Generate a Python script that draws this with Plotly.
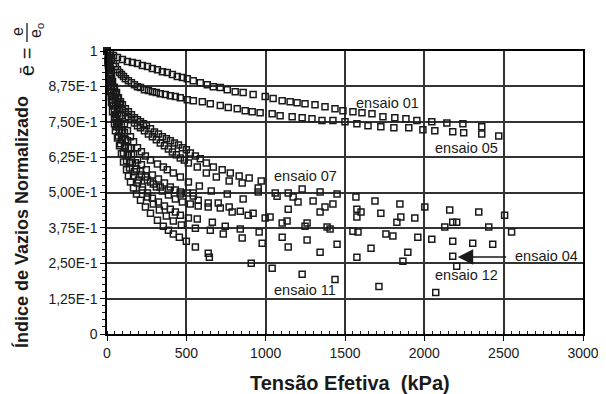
import plotly.graph_objects as go

# ---------------- data (Tensão efetiva kPa, índice de vazios normalizado) -------------
x01 = [0, 22, 41, 66, 97, 129, 160, 192, 223, 255, 286, 318, 349, 380, 412, 443, 475, 506, 544, 588,
       632, 670, 714, 758, 808, 858, 921, 997, 1047, 1104, 1154, 1198, 1248, 1311, 1374, 1437, 1487, 1550,
       1607, 1670, 1739, 1814, 1884, 1953, 2047, 2142, 2243, 2362]
y01 = [1.0, .991, .984, .977, .970, .963, .959, .956, .949, .945, .938, .934, .927, .924, .917, .910, .906,
       .902, .895, .888, .881, .874, .871, .863, .856, .853, .846, .839, .832, .824, .821, .817, .814, .810,
       .803, .796, .789, .785, .782, .778, .768, .764, .761, .754, .750, .746, .743, .732]

x05 = [0, 16, 28, 41, 53, 66, 79, 91, 104, 116, 135, 154, 173, 192, 211, 236, 261, 286, 311, 336, 368, 399,
       431, 462, 506, 544, 601, 651, 714, 764, 821, 871, 915, 965, 1041, 1091, 1167, 1230, 1292, 1355, 1424,
       1500, 1575, 1645, 1726, 1808, 1902, 1991, 2066, 2179, 2248, 2362, 2469]
y05 = [1.0, .984, .970, .956, .945, .934, .924, .917, .910, .902, .895, .888, .881, .874, .871, .863, .860,
       .856, .853, .849, .846, .842, .839, .835, .828, .824, .821, .814, .807, .800, .796, .789, .785, .782,
       .778, .771, .768, .764, .761, .754, .754, .750, .743, .736, .732, .729, .729, .722, .718, .715, .711,
       .707, .700]

x07 = [0, 9, 16, 22, 28, 35, 47, 60, 72, 85, 97, 116, 135, 154, 173, 192, 211, 230, 248, 274, 299, 324, 349,
       374, 399, 425, 450, 475, 500, 525, 557, 588, 626, 670, 726, 777, 833, 896, 972, 1230, 1343, 1450, 1569,
       1689, 1846, 2003, 2160, 2343, 2506]
y07 = [1.0, .977, .952, .931, .910, .892, .871, .853, .835, .821, .810, .796, .785, .775, .764, .757, .750,
       .743, .736, .725, .714, .707, .697, .690, .683, .675, .668, .658, .651, .640, .629, .619, .604, .590,
       .580, .569, .558, .551, .541, .512, .502, .495, .484, .470, .459, .449, .438, .431, .420]

x08 = [0, 9, 16, 22, 28, 41, 53, 66, 79, 97, 116, 135, 154, 173, 192, 211, 236, 261, 286, 311, 336, 362, 387,
       412, 437, 462, 487, 513, 569, 626, 689, 770, 852, 953, 1072, 1173, 1299, 1424, 1575, 1726, 1852, 1940,
       2179, 2406, 2550]
y08 = [1.0, .966, .938, .913, .892, .871, .849, .832, .814, .796, .782, .768, .757, .746, .736, .729, .718,
       .707, .697, .686, .675, .665, .654, .643, .633, .622, .615, .604, .590, .569, .555, .541, .534, .516,
       .487, .484, .470, .459, .441, .427, .413, .410, .395, .378, .360]

x02 = [0, 9, 16, 22, 28, 41, 53, 66, 79, 91, 110, 129, 148, 167, 192, 217, 242, 274, 318, 355, 380, 418, 462,
       513, 582, 657, 758, 858, 953, 1060, 1142, 1204, 1374, 1601, 1827, 2204]
y02 = [1.0, .973, .949, .924, .899, .871, .846, .821, .796, .771, .743, .718, .697, .679, .658, .644, .629,
       .615, .601, .590, .580, .569, .555, .537, .523, .505, .495, .477, .502, .498, .498, .466, .449, .431,
       .395, .395]

x03 = [0, 9, 16, 22, 28, 41, 53, 66, 79, 91, 110, 129, 148, 167, 192, 217, 248, 286, 324, 362, 399, 431, 462,
       506, 544, 575, 638, 701, 770, 840, 921, 997, 1135, 1261, 1387, 1550, 1758, 1959, 2179, 2431]
y03 = [1.0, .970, .941, .913, .885, .856, .828, .800, .771, .743, .711, .683, .658, .637, .615, .598, .580,
       .562, .548, .534, .519, .509, .502, .498, .488, .473, .463, .463, .449, .434, .427, .410, .399, .392,
       .378, .363, .353, .342, .328, .317]

x06 = [0, 9, 16, 22, 28, 41, 53, 66, 79, 97, 116, 135, 154, 179, 211, 242, 274, 311, 349, 387, 431, 475, 525,
       575, 638, 714, 789, 890, 1028, 1104, 1248, 1406, 1582, 1802, 2047, 2305]
y06 = [1.0, .966, .934, .902, .874, .839, .807, .778, .750, .718, .686, .658, .633, .605, .576, .555, .537,
       .519, .505, .491, .477, .466, .459, .452, .449, .445, .431, .420, .413, .392, .381, .371, .360, .346,
       .335, .321]

x09 = [0, 9, 16, 22, 28, 41, 53, 66, 79, 97, 116, 135, 160, 186, 217, 255, 292, 336, 387, 462, 544, 1142,
       1343, 1575, 2129]
y09 = [1.0, .959, .917, .878, .842, .807, .775, .746, .718, .686, .658, .633, .605, .583, .562, .544, .530,
       .519, .509, .495, .498, .441, .431, .413, .378]

x04 = [0, 9, 16, 22, 28, 35, 47, 60, 72, 91, 110, 129, 148, 173, 198, 223, 255, 286, 324, 362, 399, 431, 462,
       513, 569, 664, 745, 840, 959, 1104, 1261, 1450, 1664, 1896, 2179]
y04 = [1.0, .963, .924, .888, .856, .828, .793, .761, .732, .697, .665, .633, .605, .573, .544, .519, .498,
       .480, .466, .452, .441, .431, .420, .410, .406, .395, .381, .371, .360, .342, .332, .317, .303, .289,
       .275]

x12 = [0, 9, 16, 22, 28, 35, 47, 60, 72, 85, 104, 123, 142, 167, 192, 223, 255, 292, 330, 374, 418, 469, 557,
       651, 733, 852, 978, 1142, 1343, 1575, 1865, 2204]
y12 = [1.0, .956, .913, .874, .839, .807, .768, .732, .700, .672, .640, .612, .587, .558, .534, .509, .484,
       .459, .438, .417, .399, .385, .374, .367, .353, .339, .321, .307, .289, .271, .257, .239]

x11 = [0, 9, 16, 22, 28, 35, 47, 53, 66, 79, 91, 104, 123, 135, 148, 167, 186, 211, 242, 274, 318, 355, 387,
       418, 456, 500, 557, 638, 645, 909, 1041, 1230, 1437, 1714, 2072]
y11 = [1.0, .949, .899, .856, .817, .785, .743, .718, .693, .665, .637, .608, .580, .558, .537, .516, .495,
       .473, .449, .427, .402, .381, .367, .353, .342, .328, .307, .285, .271, .250, .232, .211, .193, .168,
       .147]

series = [("ensaio 01", x01, y01), ("ensaio 05", x05, y05), ("ensaio 07", x07, y07),
          ("ensaio 08", x08, y08), ("ensaio 02", x02, y02), ("ensaio 03", x03, y03),
          ("ensaio 06", x06, y06), ("ensaio 09", x09, y09), ("ensaio 04", x04, y04),
          ("ensaio 12", x12, y12), ("ensaio 11", x11, y11)]

x_ticks = [0, 500, 1000, 1500, 2000, 2500, 3000]
y_ticks = [0, 0.125, 0.25, 0.375, 0.5, 0.625, 0.75, 0.875, 1]
y_ticktext = ["0", "1,25E-1", "2,50E-1", "3,75E-1", "5,00E-1", "6,25E-1", "7,50E-1", "8,75E-1", "1"]

# labels: (text, x, y)
labels = [("ensaio 01", 1767, 0.816), ("ensaio 05", 2264, 0.658), ("ensaio 07", 1252, 0.557),
          ("ensaio 11", 1248, 0.154), ("ensaio 12", 2264, 0.207), ("ensaio 04", 2770, 0.275)]

# ---------------- figure ----------------
FONT = "Liberation Sans, Arial, Helvetica, sans-serif"
INK = "#1a1a1a"
GRID = "#333333"

fig = go.Figure()
for name, xs, ys in series:
    fig.add_trace(go.Scatter(
        x=xs, y=ys, mode="markers", name=name, showlegend=False, cliponaxis=False,
        marker=dict(symbol="square-open", size=6, color=INK, line=dict(width=1.5, color=INK))))

# the page body has an 8 px default margin: size the figure to fill the rest of the window
OFF = 8
W, H = 606 - OFF, 394 - OFF
ML, MR, MT, MB = 107 - OFF, 23, 51 - OFF, 60
PW, PH = W - ML - MR, H - MT - MB


def px(xp):  # window pixel -> paper x
    return (xp - OFF - ML) / PW


def py(yp):  # window pixel -> paper y
    return (H - MB - (yp - OFF)) / PH


common = dict(showline=True, linecolor="black", linewidth=1.5, mirror=True, automargin=False,
              showgrid=True, gridcolor=GRID, gridwidth=1.5, zeroline=False,
              ticks="outside", ticklen=5, tickwidth=1.3, tickcolor="black",
              tickfont=dict(family=FONT, size=14, color=INK))

fig.update_layout(
    width=W, height=H, margin=dict(l=ML, r=MR, t=MT, b=MB, autoexpand=False),
    paper_bgcolor="white", plot_bgcolor="white",
    xaxis=dict(range=[0, 3000], tickmode="array", tickvals=x_ticks,
               minor=dict(dtick=50, ticks="inside", ticklen=3, tickwidth=1, tickcolor=INK, showgrid=False),
               **common),
    yaxis=dict(range=[0, 1], tickmode="array", tickvals=y_ticks, ticktext=y_ticktext,
               minor=dict(dtick=0.025, ticks="outside", ticklen=3, tickwidth=1, tickcolor=INK, showgrid=False),
               **common),
)

ann = []
for text, lx, ly in labels:
    ann.append(dict(x=lx, y=ly, xref="x", yref="y", text=text, showarrow=False,
                    font=dict(family=FONT, size=14.5, color=INK), xanchor="center", yanchor="middle"))

# arrow pointing to ensaio 04
ann.append(dict(x=2211, y=0.272, xref="x", yref="y", ax=2525, ay=0.272, axref="x", ayref="y",
                text="", showarrow=True, arrowhead=2, arrowsize=2.2, arrowwidth=1.4, arrowcolor=INK))

# axis titles
ann.append(dict(x=px(350), y=py(383), xref="paper", yref="paper", showarrow=False,
                text="<b>Tensão Efetiva\u00a0\u00a0(kPa)</b>", font=dict(family=FONT, size=20, color=INK),
                xanchor="center", yanchor="middle"))
ann.append(dict(x=px(21), y=py(222), xref="paper", yref="paper", showarrow=False, textangle=-90,
                text="<b>Índice de Vazios Normalizado</b>", font=dict(family=FONT, size=18, color=INK),
                xanchor="center", yanchor="middle"))
ann.append(dict(x=px(27), y=py(62), xref="paper", yref="paper", showarrow=False, textangle=-90,
                text="ē =", font=dict(family=FONT, size=20, color=INK),
                xanchor="center", yanchor="middle"))
ann.append(dict(x=px(18), y=py(32), xref="paper", yref="paper", showarrow=False, textangle=-90,
                text="e", font=dict(family=FONT, size=16, color=INK),
                xanchor="center", yanchor="middle"))
ann.append(dict(x=px(37), y=py(31), xref="paper", yref="paper", showarrow=False, textangle=-90,
                text="e<sub>o</sub>", font=dict(family=FONT, size=16, color=INK),
                xanchor="center", yanchor="middle"))
fig.update_layout(annotations=ann)

fig.add_shape(type="line", xref="paper", yref="paper", x0=px(27), x1=px(27), y0=py(42), y1=py(23),
              line=dict(color=INK, width=1.3))

fig.write_html("out.html")
